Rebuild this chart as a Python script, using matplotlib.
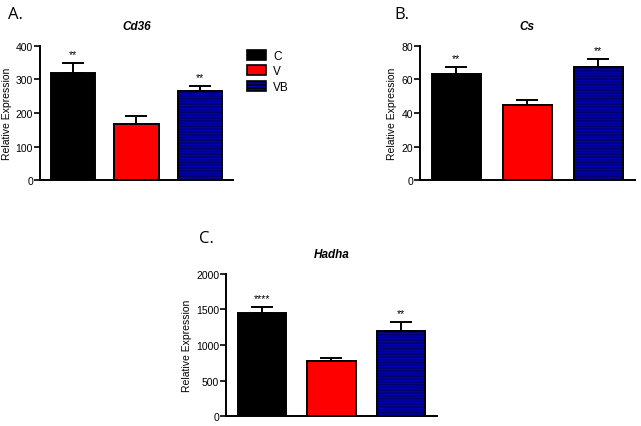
import numpy as np
import matplotlib.pyplot as plt
from matplotlib.patches import Patch

groups = ['C', 'V', 'VB']
colors = ['black', '#ff0000', '#0000b0']

cd36 = [320, 168, 265]
cd36_err = [30, 22, 17]
cs = [63.5, 45, 67.5]
cs_err = [4, 2.5, 5]
hadha = [1450, 775, 1200]
hadha_err = [90, 45, 125]

cd36_stars = ['**', '', '**']
cs_stars = ['**', '', '**']
hadha_stars = ['****', '', '**']

plt.rcParams['font.family'] = 'Liberation Sans'

fig = plt.figure(figsize=(6.41, 4.27), dpi=100)

def panel(rect, vals, errs, stars, ymax, step, title, letter, letter_xy):
    ax = fig.add_axes(rect)
    x = np.arange(len(vals))
    w = 0.69
    for i in range(len(vals)):
        if groups[i] == 'VB':
            ax.bar(x[i], vals[i], w, color=colors[i], hatch='------',
                   edgecolor='#00006a', linewidth=0, zorder=2)
            ax.bar(x[i], vals[i], w, fill=False, edgecolor='black',
                   linewidth=1.4, zorder=3)
        else:
            ax.bar(x[i], vals[i], w, color=colors[i], edgecolor='black',
                   linewidth=1.4, zorder=2)
        ax.errorbar(x[i], vals[i], yerr=[[0], [errs[i]]], color='black',
                    capsize=8, elinewidth=1.4, capthick=1.4, zorder=1)
        if stars[i]:
            ax.text(x[i], vals[i] + errs[i] + ymax * 0.025, stars[i],
                    ha='center', va='bottom', fontsize=7.5)
    ax.set_xlim(-0.51, 2.51)
    ax.set_ylim(0, ymax)
    ax.set_yticks(np.arange(0, ymax + 1, step))
    ax.set_xticks([])
    ax.spines['top'].set_visible(False)
    ax.spines['right'].set_visible(False)
    ax.spines['left'].set_linewidth(1.4)
    ax.spines['bottom'].set_linewidth(1.4)
    ax.tick_params(axis='y', labelsize=7.5, width=1.2, length=4, pad=1)
    ax.set_ylabel('Relative Expression', fontsize=7.5, labelpad=3)
    ax.set_title(title, fontsize=8.5, style='italic', fontweight='bold', pad=12)
    fig.text(letter_xy[0], letter_xy[1], letter, fontsize=12,
             family='Open Sans', va='center')
    return ax

axA = panel([0.0624, 0.576, 0.301, 0.314], cd36, cd36_err, cd36_stars,
            400, 100, 'Cd36', 'A.', (0.012, 0.965))
panel([0.655, 0.576, 0.335, 0.314], cs, cs_err, cs_stars,
      80, 20, 'Cs', 'B.', (0.615, 0.965))
panel([0.3526, 0.0234, 0.329, 0.3326], hadha, hadha_err, hadha_stars,
      2000, 500, 'Hadha', 'C.', (0.31, 0.44))

handles = [Patch(facecolor=c, edgecolor='black', linewidth=1.2) for c in colors]
handles[2] = Patch(facecolor=colors[2], edgecolor='black', linewidth=1.2, hatch='-----')
axA.legend(handles, groups, loc='upper left', bbox_to_anchor=(1.02, 1.05),
           frameon=False, fontsize=8.5, handlelength=1.6, handleheight=0.9,
           labelspacing=0.3, handletextpad=0.6)

fig.savefig('out.png', dpi=100)
